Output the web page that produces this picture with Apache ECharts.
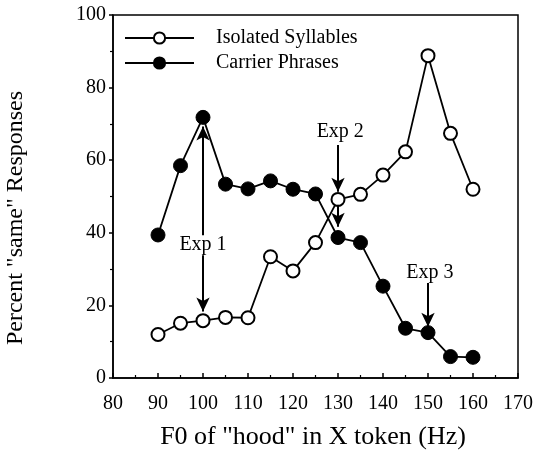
<!DOCTYPE html>
<html>
<head>
<meta charset="utf-8">
<script src="https://cdn.jsdelivr.net/npm/echarts@6/dist/echarts.min.js"></script>
<style>
html,body{margin:0;padding:0;background:#fff;}
#chart{width:536px;height:460px;}
</style>
</head>
<body>
<div id="chart"></div>
<script>
// ---- data ----
var f0Values = [90, 95, 100, 105, 110, 115, 120, 125, 130, 135, 140, 145, 150, 155, 160];
var isolatedSyllables = [12.0, 15.1, 15.8, 16.7, 16.6, 33.4, 29.5, 37.3, 49.2, 50.6, 55.9, 62.3, 88.8, 67.4, 52.0];
var carrierPhrases = [39.4, 58.5, 71.8, 53.4, 52.1, 54.3, 52.0, 50.7, 38.7, 37.3, 25.3, 13.7, 12.5, 5.9, 5.7];
var xTicks = [80, 90, 100, 110, 120, 130, 140, 150, 160, 170];
var yTicks = [0, 20, 40, 60, 80, 100];
var annotationText = ['Exp 1', 'Exp 2', 'Exp 3'];
var annotationX = [100, 130.5, 150.4];
var annotationY = [36.6, 67.9, 28.9];
// arrows
var arrowX = [100, 130, 130, 150];
var arrowFrom = [18.3, 64.2, 47.7, 26.2];
var arrowTo = [69.3, 51.3, 41.7, 14.1];
var arrowStartHead = [true, false, false, false];
var arrowEndHead = [true, true, true, true];

var serif = '"Liberation Serif", "Times New Roman", serif';

function pairs(xs, ys) { return xs.map(function (x, i) { return [x, ys[i]]; }); }

var arrowLines = arrowX.map(function (x, i) {
  return [
    { coord: [x, arrowFrom[i]], symbol: arrowStartHead[i] ? 'arrow' : 'none' },
    { coord: [x, arrowTo[i]], symbol: arrowEndHead[i] ? 'arrow' : 'none' }
  ];
});

var chart = echarts.init(document.getElementById('chart'), null, { renderer: 'canvas' });
chart.setOption({
  backgroundColor: '#ffffff',
  animation: false,
  textStyle: { fontFamily: serif, color: '#000' },
  grid: {
    left: 113, right: 14, top: 15, bottom: 82,
    show: true, borderColor: '#000', borderWidth: 1.5, backgroundColor: 'transparent'
  },
  legend: {
    data: ['Isolated Syllables', 'Carrier Phrases'],
    orient: 'vertical',
    left: 124, top: 28, padding: 0,
    itemWidth: 69, itemHeight: 14, itemGap: 5,
    textStyle: { fontFamily: serif, fontSize: 20, color: '#000', padding: [0, 0, 0, 17] },
    selectedMode: false
  },
  xAxis: {
    type: 'value', min: 80, max: 170, interval: 10,
    axisLine: { show: true, onZero: false, lineStyle: { color: '#000', width: 1.5 } },
    axisTick: { show: true, inside: true, length: 5, lineStyle: { color: '#000', width: 1.5 } },
    minorTick: { show: true, splitNumber: 2, length: 3, lineStyle: { color: '#000', width: 1.2 } },
    splitLine: { show: false },
    axisLabel: {
      fontFamily: serif, fontSize: 20, color: '#000', margin: 16,
      customValues: xTicks
    }
  },
  yAxis: {
    type: 'value', min: 0, max: 100, interval: 20,
    axisLine: { show: true, lineStyle: { color: '#000', width: 1.5 } },
    axisTick: { show: true, inside: false, length: 4, lineStyle: { color: '#000', width: 1.5 } },
    minorTick: { show: true, splitNumber: 2, length: 3, lineStyle: { color: '#000', width: 1.2 } },
    splitLine: { show: false },
    axisLabel: {
      fontFamily: serif, fontSize: 20, color: '#000', margin: 7,
      customValues: yTicks
    }
  },
  graphic: [
    {
      type: 'text', x: 313, y: 437,
      style: { text: 'F0 of "hood" in X token (Hz)', font: '26px ' + serif, fill: '#000', align: 'center', verticalAlign: 'middle' }
    },
    {
      type: 'text', rotation: Math.PI / 2, x: 16, y: 218,
      style: { text: 'Percent "same" Responses', font: '24px ' + serif, fill: '#000', align: 'center', verticalAlign: 'middle' }
    }
  ],
  series: [
    {
      name: 'Isolated Syllables', type: 'line',
      data: pairs(f0Values, isolatedSyllables),
      symbol: 'circle', symbolSize: 13,
      lineStyle: { color: '#000', width: 1.8 },
      itemStyle: { color: '#fff', borderColor: '#000', borderWidth: 2 },
      z: 3
    },
    {
      name: 'Carrier Phrases', type: 'line',
      data: pairs(f0Values, carrierPhrases),
      symbol: 'circle', symbolSize: 14,
      lineStyle: { color: '#000', width: 1.8 },
      itemStyle: { color: '#000', borderColor: '#000', borderWidth: 1 },
      z: 3
    },
    {
      name: 'annotations', type: 'scatter',
      data: pairs(annotationX, annotationY).map(function (p, i) { return { value: p, name: annotationText[i] }; }),
      symbol: 'circle', symbolSize: 0.01, itemStyle: { color: '#fff', opacity: 1 },
      label: {
        show: true, position: 'inside', formatter: function (p) { return p.name; },
        fontFamily: serif, fontSize: 20, color: '#000', opacity: 1,
        textBorderWidth: 0, textBorderColor: 'transparent',
        backgroundColor: '#fff', padding: [0, 2]
      },
      z: 5,
      markLine: {
        silent: true, animation: false,
        symbolSize: [10, 14],
        label: { show: false },
        lineStyle: { color: '#000', width: 2, type: 'solid' },
        data: arrowLines,
        z: 4
      }
    }
  ]
});
</script>
</body>
</html>
